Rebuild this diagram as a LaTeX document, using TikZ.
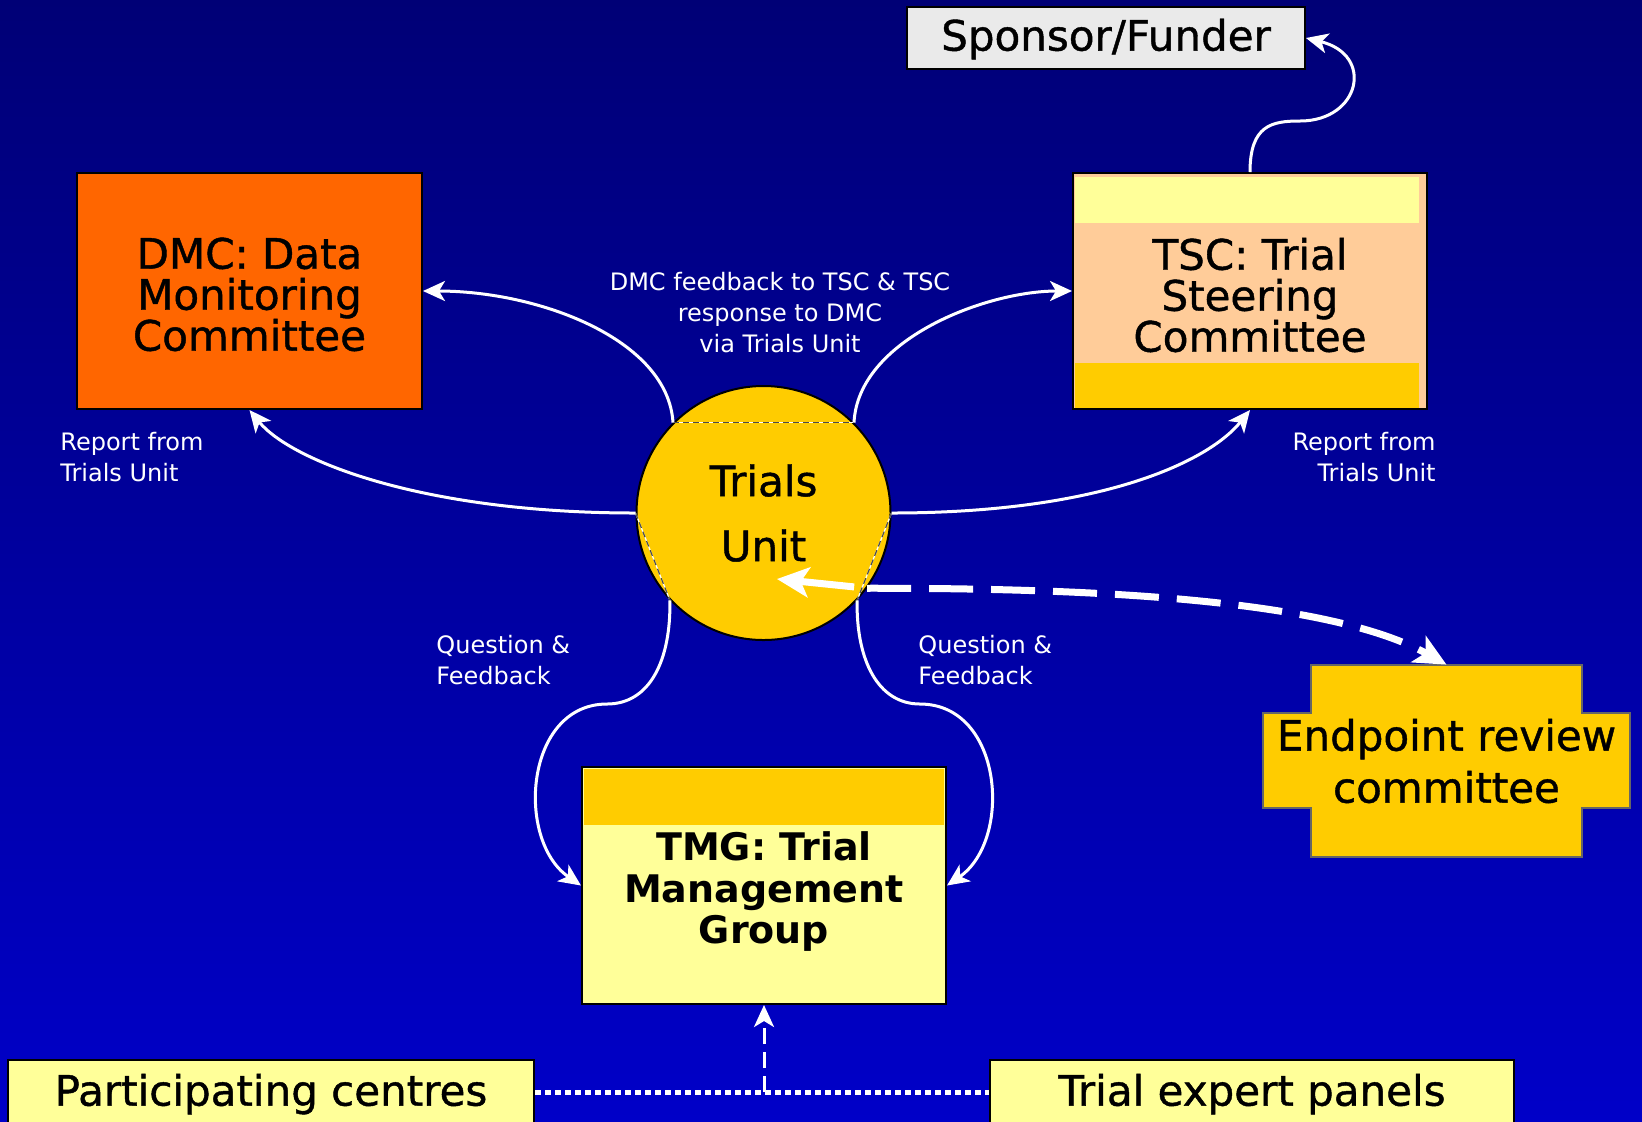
\documentclass[tikz,border=0pt]{standalone}
\usepackage{fontspec}
\setmainfont{DejaVu Sans}
\newfontfamily\heavyfont{DejaVu Sans}[FakeBold=1]
\usetikzlibrary{arrows.meta}

\definecolor{bgtop}{RGB}{0,0,118}
\definecolor{bgbot}{RGB}{0,0,200}
\definecolor{dmcorange}{RGB}{255,102,0}
\definecolor{peach}{RGB}{255,204,153}
\definecolor{paleyellow}{RGB}{255,255,153}
\definecolor{gold}{RGB}{255,204,0}
\definecolor{lightgrey}{RGB}{234,234,234}

\begin{document}
\begin{tikzpicture}[x=0.5pt, y=-0.5pt,
	box/.style={draw=black, line width=1pt, inner sep=0pt, align=center, font=\heavyfont\fontsize{21}{20.5}\selectfont},
	note/.style={text=white, inner sep=0pt, font=\fontsize{12}{15.5}\selectfont},
	link/.style={draw=white, line width=1.5pt, -{Stealth[length=11pt, width=10pt, inset=3pt]}},
	biglink/.style={draw=white, line width=3.5pt, -{Stealth[length=16pt, width=15pt, inset=4pt]}},
	chord/.style={draw=white, line width=0.6pt, postaction={draw=black!70, line width=0.6pt, dash pattern=on 3pt off 2pt}}]
	% background
	\useasboundingbox (0,0) rectangle (1642,1121);
	\fill [top color=bgtop, bottom color=bgbot] (0,0) rectangle (1642,1121);
	% committees
	\node [box, fill=dmcorange, minimum width=172.5pt, minimum height=118pt] (dmc) at (249.5,291) {\rule{0pt}{19pt}DMC: Data\\Monitoring\\Committee};
	\node [box, fill=peach, minimum width=177pt, minimum height=118pt,
		path picture={
			\fill [paleyellow] ([shift={(2,4)}]path picture bounding box.north west) rectangle ([shift={(-8,50)}]path picture bounding box.north east);
			\fill [gold] ([shift={(2,-46)}]path picture bounding box.south west) rectangle ([shift={(-8,0)}]path picture bounding box.south east);
		}] (tsc) at (1250,291) {\rule{0pt}{20pt}TSC: Trial\\Steering\\Committee};
	\node [box, fill=paleyellow, minimum width=182pt, minimum height=118.5pt, font=\bfseries\fontsize{19}{20.75}\selectfont,
		path picture={
			\fill [gold] ([shift={(2,2)}]path picture bounding box.north west) rectangle ([shift={(-2,58)}]path picture bounding box.north east);
		}] (tmg) at (764,885.5) {\rule{0pt}{20.5pt}TMG: Trial\\Management\\Group};
	\node [box, fill=lightgrey, minimum width=199pt, minimum height=31pt] (spons) at (1106,38) {\rule{0pt}{17pt}Sponsor/Funder};
	\node [circle, draw=black, line width=1pt, fill=gold, minimum size=127pt, inner sep=0pt, align=center, font=\heavyfont\fontsize{21}{32.5}\selectfont] (tu) at (763.5,513) {Trials\\Unit};
	% endpoint review cross
	\filldraw [fill=gold, draw=black!60, line width=0.6pt] (1311,665) -- (1582,665) -- (1582,713) -- (1630,713) -- (1630,808) -- (1582,808) -- (1582,857) -- (1311,857) -- (1311,808) -- (1263,808) -- (1263,713) -- (1311,713) -- cycle;
	\node [inner sep=0pt, align=center, minimum width=135.5pt, minimum height=96pt, font=\heavyfont\fontsize{21}{26}\selectfont] (ep) at (1446.5,761) {Endpoint review\\committee};
	% bottom row
	\node [box, fill=paleyellow, minimum width=263pt, minimum height=32pt] (pc) at (271,1092) {\rule{0pt}{18pt}Participating centres};
	\node [box, fill=paleyellow, minimum width=262pt, minimum height=32pt] (tep) at (1252,1092) {\rule{0pt}{18pt}Trial expert panels};
	% labels
	\node [note, align=center] (fbk) at (780,313) {DMC feedback to TSC \& TSC\\response to DMC\\via Trials Unit};
	\node [note, align=left, anchor=west] (repl) at (60,457) {Report from\\Trials Unit};
	\node [note, align=right, anchor=east] (repr) at (1436,457) {Report from\\Trials Unit};
	\node [note, align=left, anchor=west] (qfl) at (436,660) {Question \&\\Feedback};
	\node [note, align=left, anchor=west] (qfr) at (918,660) {Question \&\\Feedback};
	% connector ends on the circle
	\draw [chord] (tu.135) -- (tu.45);
	\draw [chord] (tu.180) -- (tu.223);
	\draw [chord] (tu.0) -- (tu.317);
	% connectors
	\draw [link] (tu.135) .. controls (668,340) and (540,291) .. (dmc.east);
	\draw [link] (tu.45) .. controls (858,340) and (985,291) .. (tsc.west);
	\draw [link] (tu.180) .. controls (420,513) and (290,460) .. (dmc.south);
	\draw [link] (tu.0) .. controls (1105,513) and (1210,460) .. (tsc.south);
	\draw [link] (tu.223) .. controls (671,660) and (650,704) .. (607,704) .. controls (525,704) and (515,840) .. (tmg.west);
	\draw [link] (tu.317) .. controls (856,660) and (878,704) .. (920,704) .. controls (1003,704) and (1013,840) .. (tmg.east);
	\draw [link] (tsc.north) .. controls (1250,125) and (1272,121) .. (1300,121) .. controls (1360,121) and (1375,55) .. (spons.east);
	% endpoint link
	\coordinate (erin) at (777,579);
	\draw [biglink, dash pattern=on 22pt off 9pt] (tu.324) .. controls (1100,588) and (1330,600) .. (ep.north);
	\draw [biglink, shorten <=6.5pt] (tu.324) -- (erin);
	% centres and panels feed the TMG
	\coordinate (join) at (pc.east -| tmg.south);
	\draw [white, line width=2.5pt, dash pattern=on 3pt off 2pt] (pc.east) -- (tep.west);
	\draw [link, dash pattern=on 8pt off 4pt] (join) -- (tmg.south);
\end{tikzpicture}
\end{document}
